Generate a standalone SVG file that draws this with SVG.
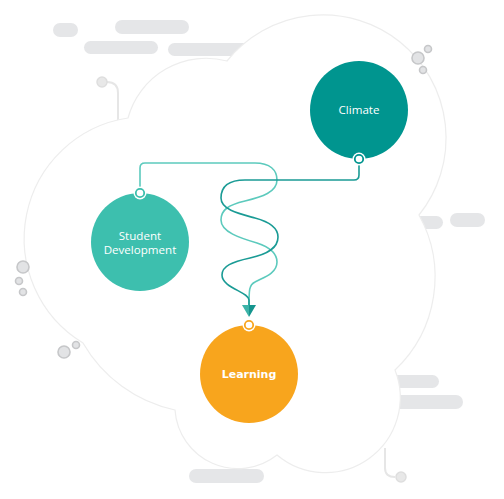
<svg xmlns="http://www.w3.org/2000/svg" width="504" height="499" viewBox="0 0 504 499">
<defs>
<style>
.pill{fill:#e5e6e8}
.bub{fill:#e2e3e5;stroke:#c6c7c9;stroke-width:1.6}
.deco{fill:none;stroke:#e6e6e6;stroke-width:2}
.cloud{fill:#ffffff;stroke:#ededed;stroke-width:1.2}
.lbl{font-family:"Open Sans","Noto Sans",sans-serif;font-size:11.6px;fill:#ffffff;text-anchor:middle}
.lblb{font-family:"DejaVu Sans",Verdana,sans-serif;font-size:11px;font-weight:bold;fill:#ffffff;text-anchor:middle}
.conn{fill:none;stroke-width:1.6;stroke-linecap:round}
</style>
</defs>
<rect width="504" height="499" fill="#ffffff"/>
<g id="background">
<rect class="pill" x="53" y="23" width="25" height="14" rx="7"/>
<rect class="pill" x="115" y="20" width="74" height="14" rx="7"/>
<rect class="pill" x="84" y="41" width="74" height="13" rx="6.5"/>
<rect class="pill" x="168" y="43" width="110" height="13" rx="6.5"/>
<rect class="pill" x="400" y="216" width="43" height="13" rx="6.5"/>
<rect class="pill" x="450" y="213" width="35" height="14" rx="7"/>
<rect class="pill" x="380" y="375" width="59" height="13" rx="6.5"/>
<rect class="pill" x="385" y="395" width="78" height="14" rx="7"/>
<rect class="pill" x="189" y="469" width="75" height="14" rx="7"/>
<path class="deco" d="M107,82 Q118,82 118,93 V122"/>
<circle cx="102" cy="82" r="5" fill="#e8e8e8" stroke="#dedede" stroke-width="1.5"/>
<path class="deco" d="M385,448 V468 Q385,477 395,477"/>
<circle cx="401" cy="477" r="5" fill="#e8e8e8" stroke="#dedede" stroke-width="1.5"/>
<path class="cloud" d="M227,61 A122,122 0 0 1 419,215 A128,128 0 0 1 395,370 A75,75 0 0 1 277,455 A63,63 0 0 1 175,410 A140,140 0 0 1 83,343 A122,122 0 0 1 128,118 A81,81 0 0 1 227,61 Z"/>
<circle class="bub" cx="418" cy="58" r="6"/>
<circle class="bub" cx="428" cy="49" r="3.5"/>
<circle class="bub" cx="423" cy="70" r="3.5"/>
<circle class="bub" cx="23" cy="267" r="6"/>
<circle class="bub" cx="19" cy="281" r="3.5"/>
<circle class="bub" cx="23" cy="292" r="3.5"/>
<circle class="bub" cx="64" cy="352" r="6"/>
<circle class="bub" cx="76" cy="345" r="3.5"/>
</g>
<g id="connectors">
<path class="conn" stroke="#5ccabd" d="M140,188 V168 Q140,163 145,163 H255 C270,163 277,170 277,180 C277,192 262,197 245,201 C228,205 221,210 221,220 C221,232 240,238 257,243 C272,248 277,254 277,262 C277,274 262,278 255,282 C249,285 249,290 249,306"/>
<path class="conn" stroke="#1a9b95" d="M359,164 V175 Q359,180 354,180 H245 C225,180 221,190 221,198 C221,210 240,214 255,218 C270,222 278,228 278,237 C278,248 268,254 250,258 C232,262 222,266 222,275 C222,288 249,292 249,300 V306"/>
<polygon points="242,305 249,305 249,317" fill="#3cb3a8"/>
<polygon points="249,305 256,305 249,317" fill="#15958e"/>
</g>
<g id="climate">
<circle cx="359" cy="110" r="49" fill="#00958f"/>
<text class="lbl" x="359" y="114">Climate</text>
<circle cx="359" cy="159" r="6.5" fill="#ffffff"/>
<circle cx="359" cy="159" r="4.2" fill="#ffffff" stroke="#00958f" stroke-width="1.8"/>
</g>
<g id="student-development">
<circle cx="140" cy="242" r="49" fill="#3dbfae"/>
<text class="lbl" x="140" y="240">Student</text>
<text class="lbl" x="140" y="254">Development</text>
<circle cx="140" cy="193" r="6.5" fill="#ffffff"/>
<circle cx="140" cy="193" r="4.2" fill="#ffffff" stroke="#3dbfae" stroke-width="1.8"/>
</g>
<g id="learning">
<circle cx="249" cy="374" r="49" fill="#f8a51d"/>
<text class="lblb" x="249" y="378">Learning</text>
<circle cx="249" cy="325" r="6.5" fill="#ffffff"/>
<circle cx="249" cy="325" r="4.2" fill="#ffffff" stroke="#f8a51d" stroke-width="1.8"/>
</g>
</svg>
